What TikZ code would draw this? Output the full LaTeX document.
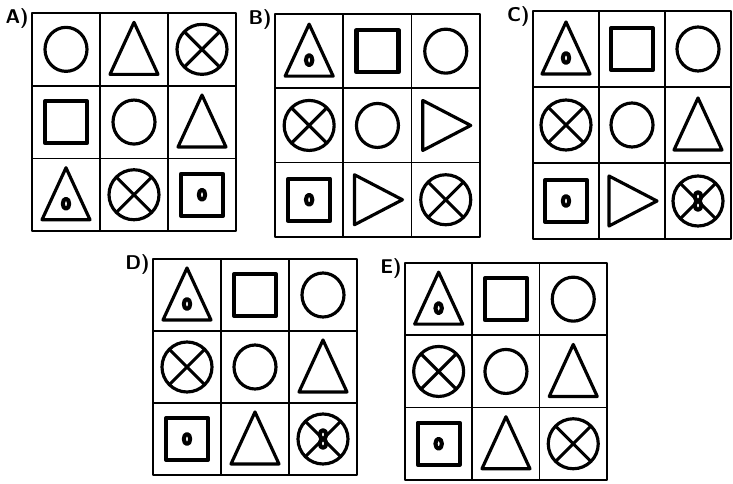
\documentclass[tikz,border=0pt]{standalone}
\usepackage{tikz}
\newcommand\puzzle[6]{% x, y, cell width, cell height, letter, shapes
  \begin{scope}[shift={(#1,#2)}]
    \draw[gridline] (0,0) rectangle (3*#3,3*#4);
    \foreach \i in {1,2} {\draw[gridline] (\i*#3,0)--(\i*#3,3*#4); \draw[gridline] (0,\i*#4)--(3*#3,\i*#4);}
    \node[lbl] (lbl#5) at (-3,-5) {#5)};
    \foreach \s [count=\k from 0] in {#6} {
      \pgfmathtruncatemacro\cc{mod(\k,3)}\pgfmathtruncatemacro\rr{div(\k,3)}
      \pic at ({(\cc+0.5)*#3},{(\rr+0.5)*#4}) {\s};
    }
  \end{scope}}
\begin{document}
\begin{tikzpicture}[x=0.03cm, y=-0.03cm, line join=round]
\tikzset{fig/.style={line width=2.7pt}, thk/.style={line width=3.5pt}, gridline/.style={line width=1.4pt}, lbl/.style={font=\sffamily\bfseries\fontsize{17}{17}\selectfont, anchor=north east, inner sep=0pt},
  pics/cir/.style={code={\draw[fig] (0,0) ellipse (21 and 22);}},
  pics/cx/.style={code={\draw[fig] (0,0) circle (25); \draw[fig] (-17.7,-17.7)--(17.7,17.7) (-17.7,17.7)--(17.7,-17.7);}},
  pics/cxe/.style={code={\pic {cx}; \draw[thk, fill=white] (0,-4.5) ellipse (3.3 and 4.3) (0,4.5) ellipse (3.3 and 4.3);}},
  pics/tri/.style={code={\draw[fig] (0,-27)--(24,25)--(-24,25)--cycle;}},
  pics/tridot/.style={code={\pic {tri}; \draw[thk] (0,9) ellipse (3.2 and 5);}},
  pics/rtri/.style={code={\draw[fig] (-23,-25)--(25,0)--(-23,25)--cycle;}},
  pics/sq/.style={code={\draw[thk] (-21,-21) rectangle (21,21);}},
  pics/sqdot/.style={code={\pic {sq}; \draw[thk] (0,0) ellipse (3.2 and 5);}}}
\useasboundingbox[fill=white] (0,0) rectangle (733,484);
\puzzle{32}{13}{68}{72.7}{A}{cir,tri,cx,sq,cir,tri,tridot,cx,sqdot}
\puzzle{275}{14}{68.3}{74.3}{B}{tridot,sq,cir,cx,cir,rtri,sqdot,rtri,cx}
\puzzle{533}{11}{66}{76}{C}{tridot,sq,cir,cx,cir,tri,sqdot,rtri,cxe}
\puzzle{153}{259}{68}{72}{D}{tridot,sq,cir,cx,cir,tri,sqdot,tri,cxe}
\puzzle{405}{263}{67.3}{72.3}{E}{tridot,sq,cir,cx,cir,tri,sqdot,tri,cx}
\end{tikzpicture}
\end{document}
